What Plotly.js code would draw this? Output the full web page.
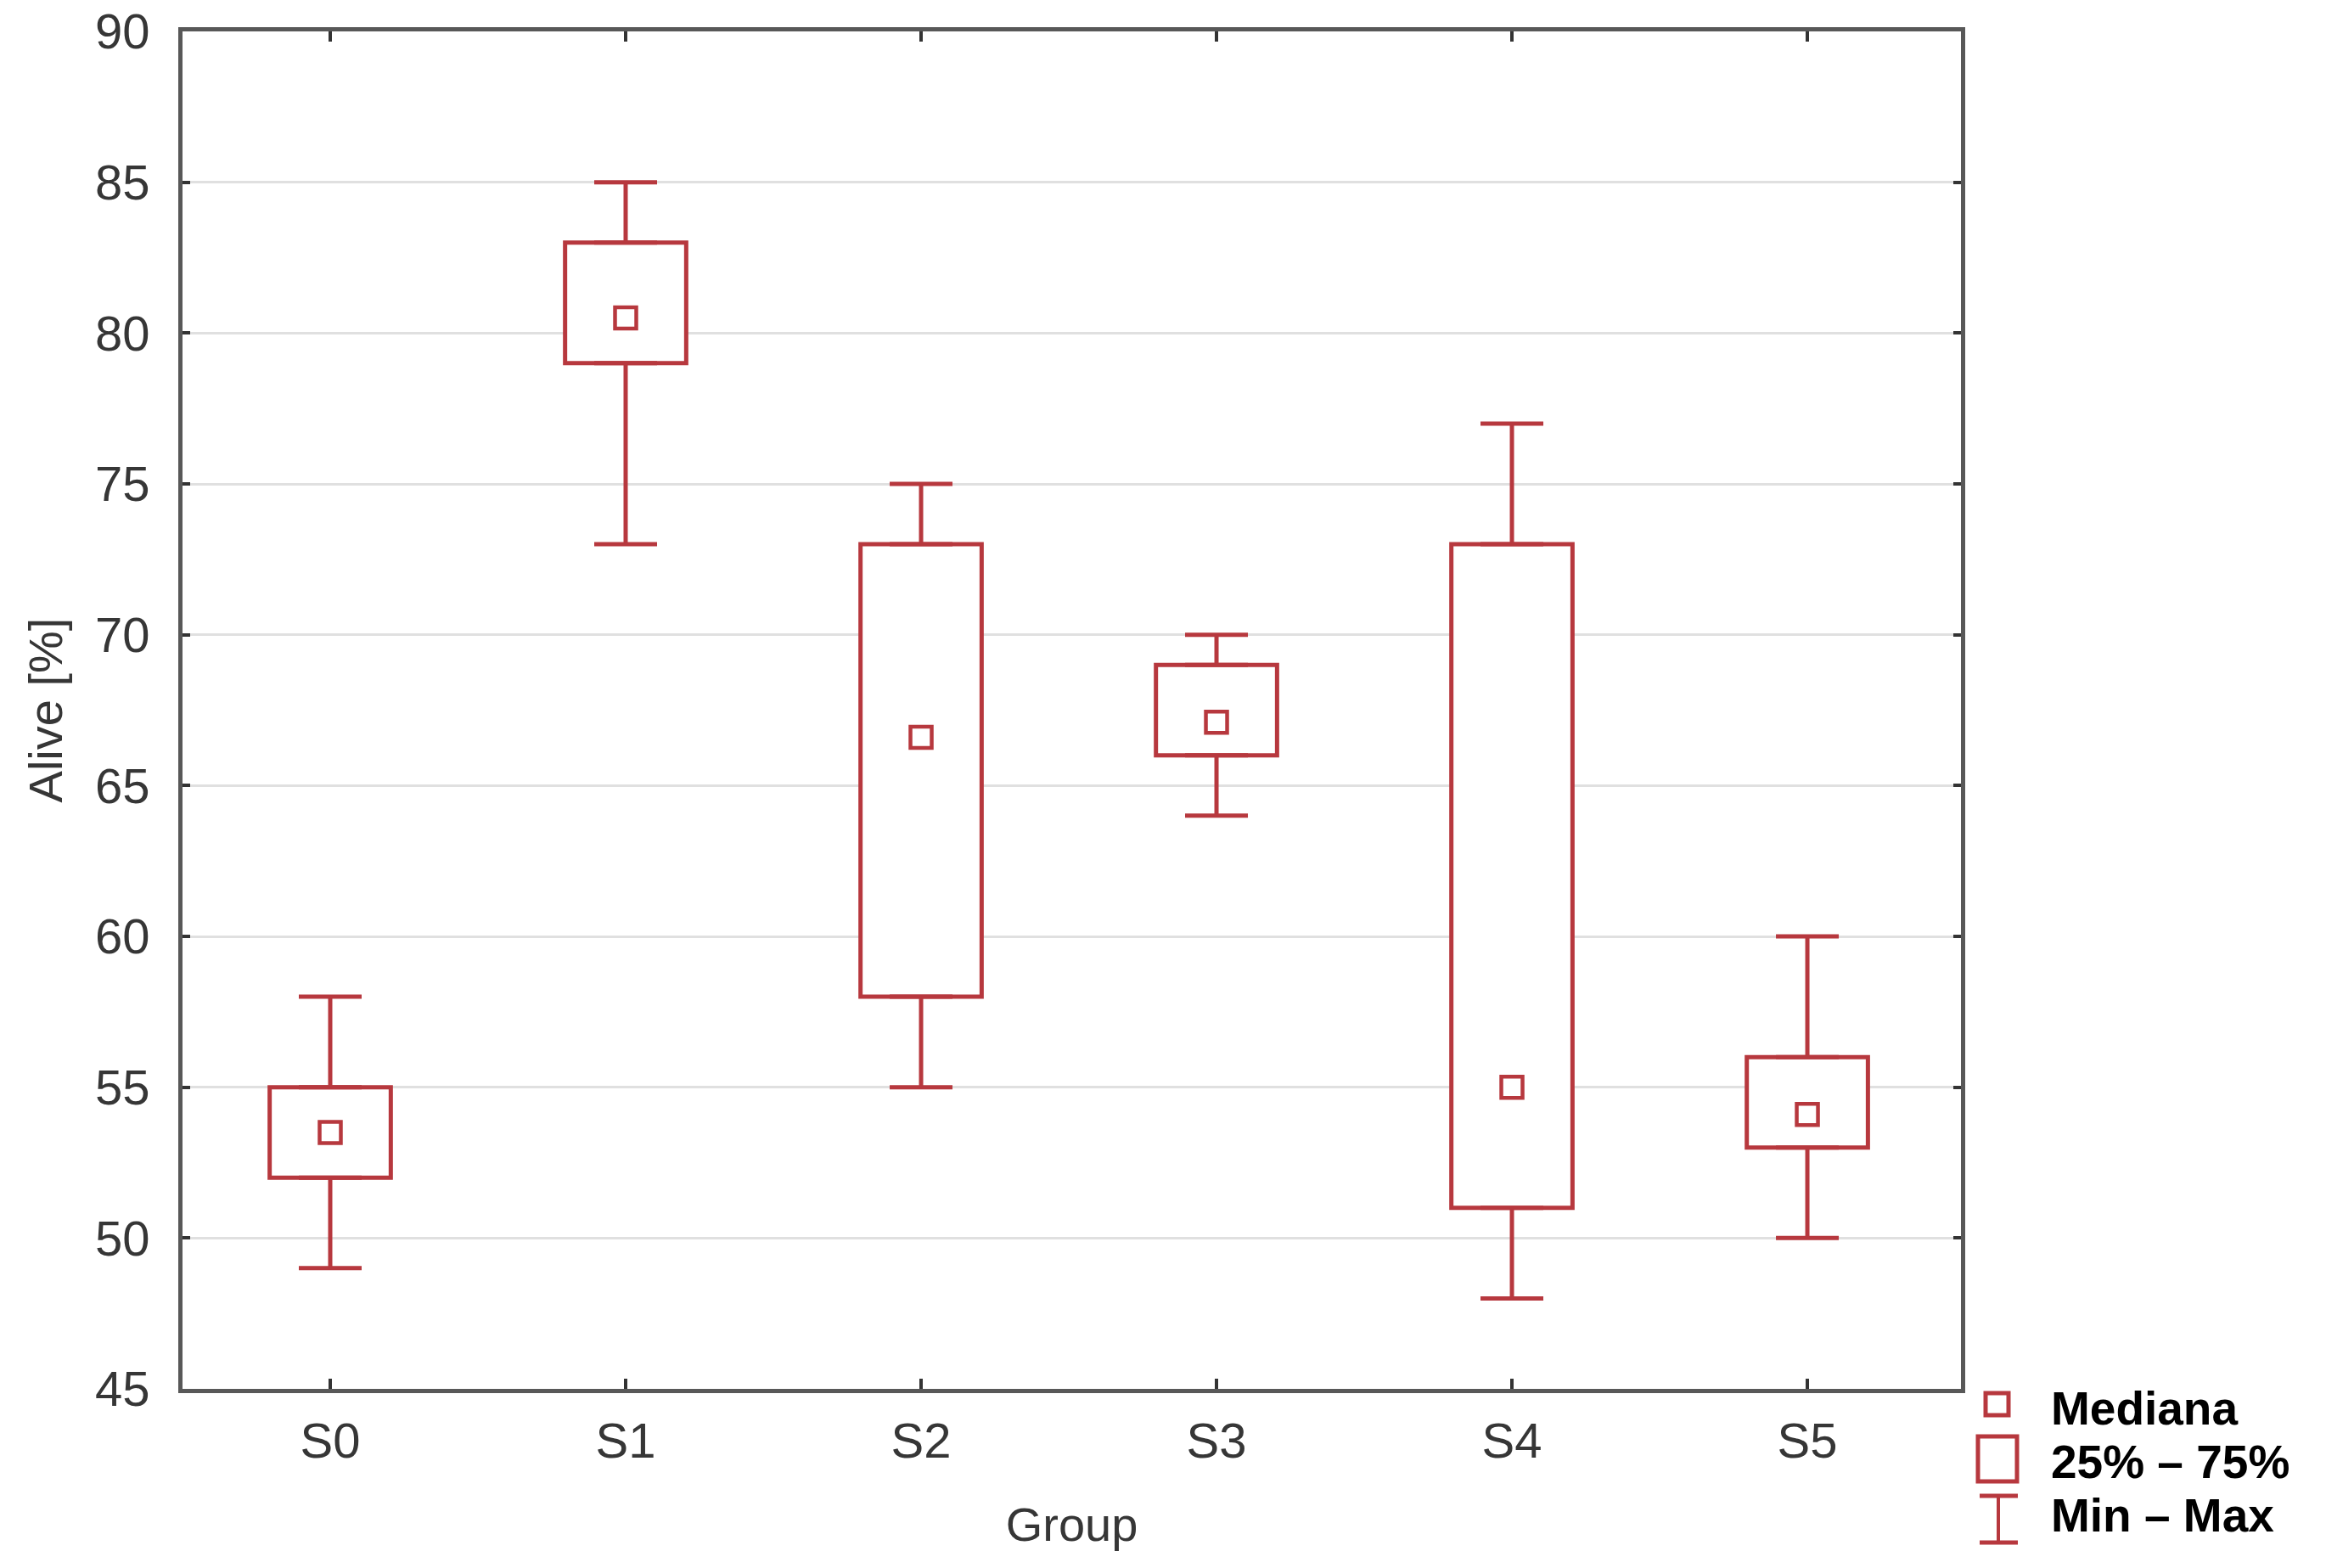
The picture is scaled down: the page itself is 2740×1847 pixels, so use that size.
<!DOCTYPE html>
<html>
<head>
<meta charset="utf-8">
<script src="https://cdn.plot.ly/plotly-3.0.1.min.js"></script>
<style>html,body{margin:0;padding:0;background:#fff;}#chart{width:2740px;height:1847px;}</style>
</head>
<body>
<div id="chart"></div>
<script>
// ---- data ----
const groups   = ["S0", "S1", "S2", "S3", "S4", "S5"];
const minVals  = [49, 73, 55, 64, 48, 50];
const q1Vals   = [52, 79, 58, 66, 51, 53];
const medians  = [53.5, 80.5, 66.6, 67.1, 55, 54.1];
const q3Vals   = [55, 83, 73, 69, 73, 56];
const maxVals  = [58, 85, 75, 70, 77, 60];
const yTicks   = [45, 50, 55, 60, 65, 70, 75, 80, 85, 90];
const legendLabels = ["Mediana", "25% \u2013 75%", "Min \u2013 Max"];

// ---- styling ----
const RED = "#b7383e";
const AXIS = "#585858";
const TXT = "#363636";

const iqr = q3Vals.map((v, i) => v - q1Vals[i]);
const zeros = groups.map(() => 0);

const traces = [
  { // 25%-75% boxes
    type: "bar", x: groups, y: iqr, base: q1Vals, width: 0.41,
    marker: { color: "#ffffff", line: { color: RED, width: 5 } },
    showlegend: false, hoverinfo: "skip"
  },
  { // upper whiskers q3 -> max
    type: "scatter", mode: "markers", x: groups, y: q3Vals,
    marker: { size: 1, color: "rgba(0,0,0,0)" },
    error_y: { type: "data", symmetric: false,
      array: maxVals.map((v, i) => v - q3Vals[i]), arrayminus: zeros,
      color: RED, thickness: 5, width: 37 },
    showlegend: false, hoverinfo: "skip"
  },
  { // lower whiskers min -> q1
    type: "scatter", mode: "markers", x: groups, y: q1Vals,
    marker: { size: 1, color: "rgba(0,0,0,0)" },
    error_y: { type: "data", symmetric: false,
      array: zeros, arrayminus: q1Vals.map((v, i) => v - minVals[i]),
      color: RED, thickness: 5, width: 37 },
    showlegend: false, hoverinfo: "skip"
  },
  { // medians
    type: "scatter", mode: "markers", x: groups, y: medians,
    marker: { symbol: "square-open", size: 25, color: RED, line: { color: RED, width: 4.5 } },
    showlegend: false, hoverinfo: "skip"
  }
];

// legend helpers (paper coordinates derived from plot area pixels)
const L = 215, R = 2310, T = 37, B = 1636;
const px = v => (v - L) / (R - L);
const py = v => (B - v) / (B - T);

const shapes = [
  // median symbol
  { type: "rect", xref: "paper", yref: "paper", x0: px(2339), x1: px(2366), y0: py(1667), y1: py(1641),
    line: { color: RED, width: 5 }, fillcolor: "rgba(0,0,0,0)" },
  // box symbol
  { type: "rect", xref: "paper", yref: "paper", x0: px(2330), x1: px(2376), y0: py(1745), y1: py(1692),
    line: { color: RED, width: 5 }, fillcolor: "rgba(0,0,0,0)" },
  // whisker symbol
  { type: "line", xref: "paper", yref: "paper", x0: px(2354), x1: px(2354), y0: py(1762), y1: py(1817),
    line: { color: RED, width: 4 } },
  { type: "line", xref: "paper", yref: "paper", x0: px(2332), x1: px(2377), y0: py(1762), y1: py(1762),
    line: { color: RED, width: 5 } },
  { type: "line", xref: "paper", yref: "paper", x0: px(2332), x1: px(2377), y0: py(1817), y1: py(1817),
    line: { color: RED, width: 5 } }
];

const legendY = [1659, 1722, 1785];
const annotations = legendLabels.map((t, i) => ({
  text: "<b>" + t + "</b>", xref: "paper", yref: "paper", x: px(2414), y: py(legendY[i]),
  xanchor: "left", yanchor: "middle", showarrow: false,
  font: { family: "Liberation Sans, Arial, sans-serif", size: 55, color: "#000000" }
}));

const layout = {
  width: 2740, height: 1847,
  margin: { l: L, r: 2740 - R, t: T, b: 1847 - B, pad: 0 },
  paper_bgcolor: "#ffffff", plot_bgcolor: "#ffffff",
  showlegend: false,
  font: { family: "Liberation Sans, Arial, sans-serif", color: TXT },
  xaxis: {
    type: "category", categoryorder: "array", categoryarray: groups,
    range: [-0.5, 5.52], showgrid: false, zeroline: false,
    showline: true, linecolor: AXIS, linewidth: 5, mirror: "ticks",
    ticks: "inside", ticklen: 12, tickwidth: 4, tickcolor: "#333333",
    ticklabelstandoff: 6,
    tickfont: { family: "Liberation Sans, Arial, sans-serif", size: 58, color: TXT },
    title: { text: "Group", standoff: 50,
      font: { family: "Liberation Sans, Arial, sans-serif", size: 56, color: TXT } }
  },
  yaxis: {
    range: [45, 90], tickvals: yTicks, ticktext: yTicks.map(String),
    showgrid: true, gridcolor: "#e0e0e0", gridwidth: 3, zeroline: false,
    showline: true, linecolor: AXIS, linewidth: 5, mirror: "ticks",
    ticks: "inside", ticklen: 9, tickwidth: 4, tickcolor: "#333333",
    ticklabelstandoff: 22,
    tickfont: { family: "Liberation Sans, Arial, sans-serif", size: 58, color: TXT },
    title: { text: "Alive [%]", standoff: 22,
      font: { family: "Liberation Sans, Arial, sans-serif", size: 56, color: TXT } }
  },
  shapes: shapes,
  annotations: annotations
};

Plotly.newPlot("chart", traces, layout, { displayModeBar: false, staticPlot: true });
</script>
</body>
</html>
